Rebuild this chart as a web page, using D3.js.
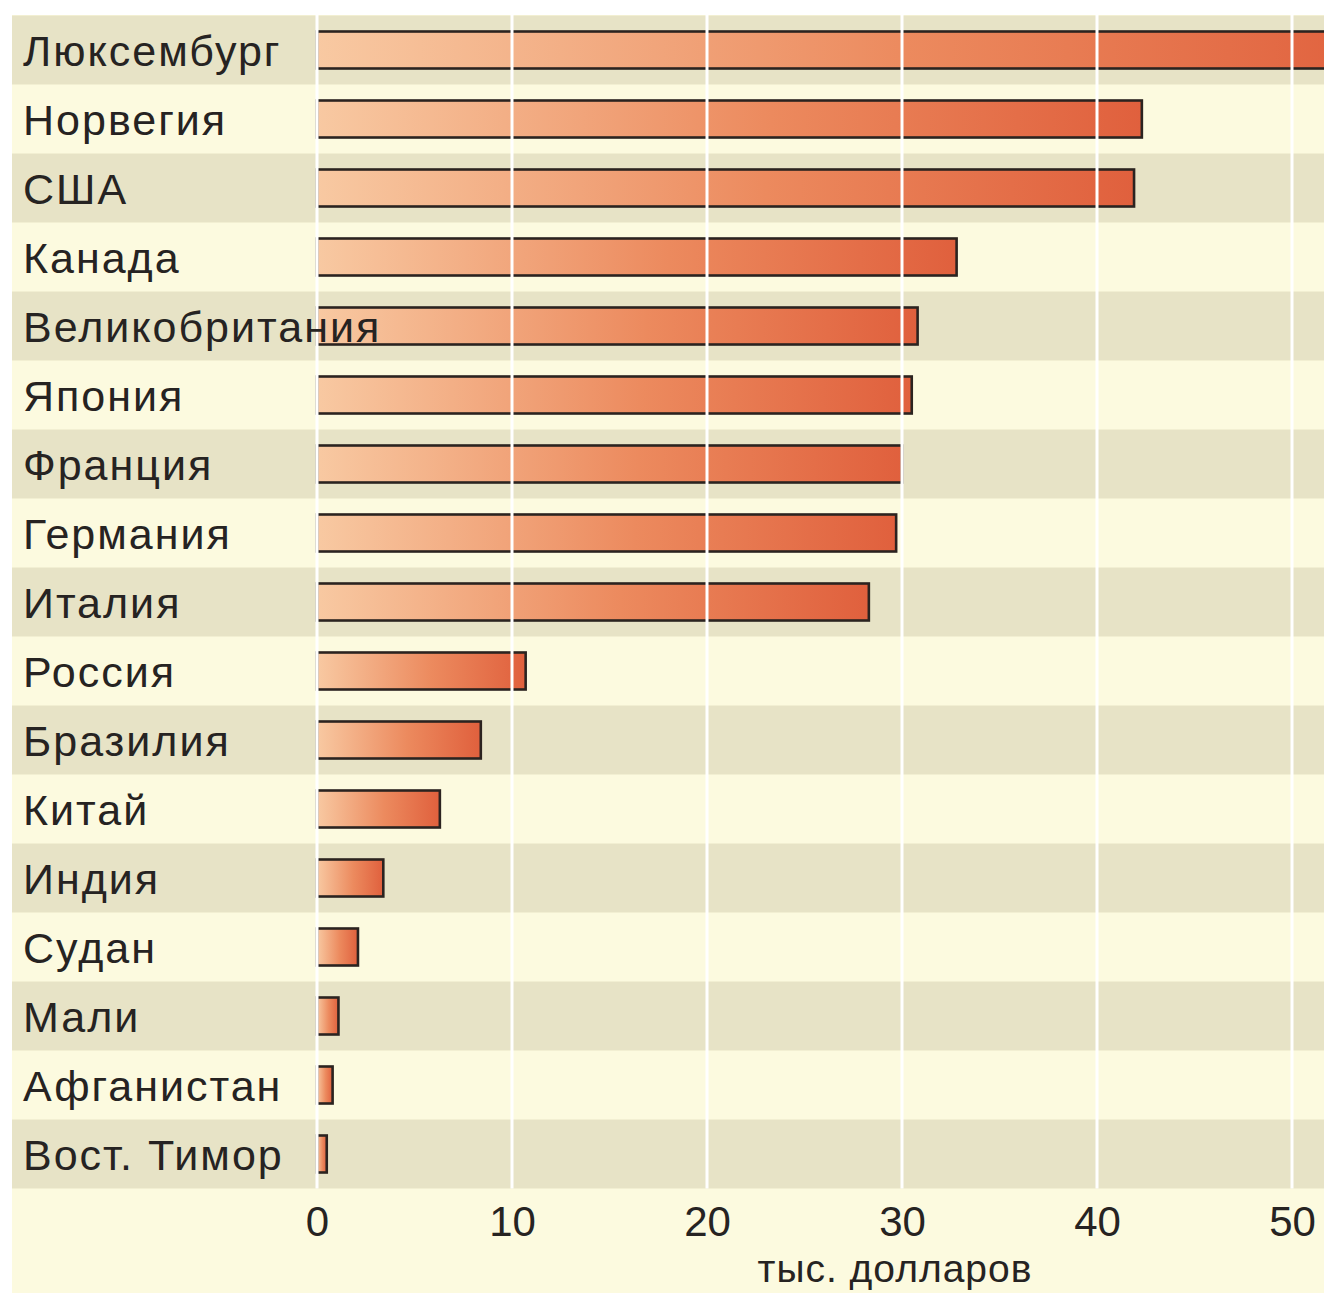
<!DOCTYPE html>
<html>
<head>
<meta charset="utf-8">
<script src="https://cdn.jsdelivr.net/npm/d3@7"></script>
<style>
  html, body { margin: 0; padding: 0; background: #ffffff; }
  svg { display: block; }
</style>
</head>
<body>
<script>
// ВВП на душу населения, тыс. долларов
const countries = ["Люксембург", "Норвегия", "США", "Канада", "Великобритания", "Япония",
  "Франция", "Германия", "Италия", "Россия", "Бразилия", "Китай", "Индия", "Судан",
  "Мали", "Афганистан", "Вост. Тимор"];
const gdp = [55, 42.3, 41.9, 32.8, 30.8, 30.5, 30.0, 29.7, 28.3, 10.7, 8.4, 6.3, 3.4, 2.1, 1.1, 0.8, 0.5];
const tickValues = [0, 10, 20, 30, 40, 50];
const axisTitle = "тыс. долларов";

const W = 1324, H = 1293;
const svg = d3.select("body").append("svg").attr("width", W).attr("height", H);

const x = d3.scaleLinear().domain([0, 50]).range([317, 1292]);
const y = d3.scaleBand().domain(countries).range([15.5, 15.5 + 69 * countries.length]).paddingInner(0).paddingOuter(0);
const bandBottom = y.range()[1];

// paper background
svg.append("rect").attr("x", 12).attr("y", 15).attr("width", W - 12).attr("height", H - 15)
  .attr("fill", "#fcfadf");

// alternating shaded rows
svg.append("g").selectAll("rect").data(countries.filter((d, i) => i % 2 === 0)).join("rect")
  .attr("x", 12).attr("width", W - 12)
  .attr("y", d => y(d)).attr("height", y.bandwidth())
  .attr("fill", "#e7e3c6");

// bar gradient
const defs = svg.append("defs");
const grad = defs.append("linearGradient").attr("id", "barGrad")
  .attr("x1", "0%").attr("x2", "100%").attr("y1", "0%").attr("y2", "0%");
grad.append("stop").attr("offset", "0%").attr("stop-color", "#f8c9a2");
grad.append("stop").attr("offset", "55%").attr("stop-color", "#ec8a5e");
grad.append("stop").attr("offset", "100%").attr("stop-color", "#e0603d");

const barH = 37;
svg.append("g").selectAll("rect").data(countries).join("rect")
  .attr("x", x(0))
  .attr("y", d => y(d) + y.bandwidth() / 2 - barH / 2)
  .attr("width", (d, i) => x(gdp[i]) - x(0))
  .attr("height", barH)
  .attr("fill", "url(#barGrad)")
  .attr("stroke", "#2b2320")
  .attr("stroke-width", 2.6);

// white vertical grid lines over the bars
svg.append("g").selectAll("line").data(tickValues).join("line")
  .attr("x1", d => x(d)).attr("x2", d => x(d))
  .attr("y1", 15).attr("y2", bandBottom)
  .attr("stroke", "#ffffff").attr("stroke-width", 3);

// country labels
svg.append("g").selectAll("text").data(countries).join("text")
  .attr("x", 23)
  .attr("y", d => y(d) + y.bandwidth() / 2 + 16)
  .attr("font-family", "'Liberation Sans', Arial, sans-serif")
  .attr("font-size", 43)
  .attr("letter-spacing", 2)
  .attr("fill", "#262322")
  .text(d => d);

// bottom axis
const axis = d3.axisBottom(x).tickValues(tickValues).tickSize(0).tickPadding(0).tickFormat(d3.format("d"));
const ag = svg.append("g").attr("transform", `translate(0, ${bandBottom + 8})`).call(axis);
ag.select(".domain").remove();
ag.selectAll("text")
  .attr("font-family", "'Liberation Sans', Arial, sans-serif")
  .attr("font-size", 42)
  .attr("fill", "#262322")
  .attr("dy", "0.95em");

svg.append("text")
  .attr("x", 895).attr("y", 1282)
  .attr("text-anchor", "middle")
  .attr("font-family", "'Liberation Sans', Arial, sans-serif")
  .attr("font-size", 39)
  .attr("letter-spacing", 1)
  .attr("fill", "#262322")
  .text(axisTitle);
</script>
</body>
</html>
